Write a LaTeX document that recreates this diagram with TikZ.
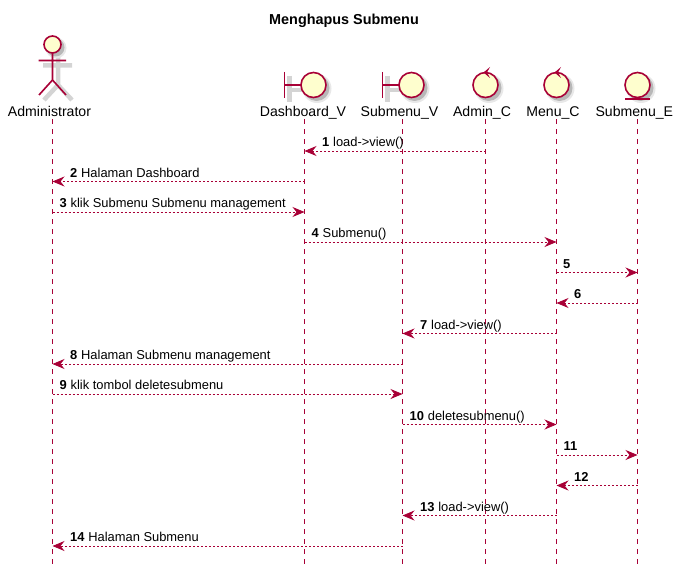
\documentclass[tikz,border=0pt]{standalone}
\usepackage{fontspec}
\setmainfont{Liberation Sans}
\usetikzlibrary{arrows.meta}
\definecolor{lineC}{HTML}{A80036}
\definecolor{fillC}{HTML}{FEFECE}
\definecolor{shadowC}{HTML}{D4D4D4}
\definecolor{shadowD}{HTML}{B8B8B8}
\definecolor{shadowL}{HTML}{E8E8E8}
\tikzset{
  x=1pt,y=-1pt,
  lifeline/.style={draw=lineC,line width=0.9pt,dash pattern=on 5pt off 5pt},
  message/.style={draw=lineC,line width=0.8pt,dash pattern=on 2pt off 2pt,-{Stealth[length=12pt,width=10pt,inset=4pt]}},
  symline/.style={draw=lineC,line width=1.6pt},
  symfill/.style={draw=lineC,fill=fillC,line width=1.6pt},
  shadowline/.style={draw=shadowC,line width=4.5pt},
  partname/.style={font=\fontsize{14.1}{16}\selectfont,text=black,inner sep=0pt,anchor=base},
  msgtext/.style={font=\fontsize{12.9}{15}\selectfont,text=black,inner sep=0pt,anchor=base west},
}
\newcommand{\softdisc}[3]{%
  \fill[shadowL] (#1+3.5,#2+3.5) circle (#3+2);
  \fill[shadowD] (#1+3,#2+3) circle (#3+0.5);
}
\newcommand{\msgline}[4]{%
  \coordinate (s#1) at (#2 |- 0,#4);
  \coordinate (e#1) at (#3 |- 0,#4);
  \draw[message] (s#1) -- (e#1);
}
\newcommand{\msglabel}[5]{%
  \node[msgtext] (t#1) at ([xshift=#3pt,yshift=4.4pt]#2 |- 0,#4) {\textbf{#1}\hspace{3.8pt}#5};
}
\begin{document}
\begin{tikzpicture}
\useasboundingbox (0,0) rectangle (684,575);
\node[font=\bfseries\fontsize{14.4}{16}\selectfont,anchor=base,inner sep=0pt] (title) at (344,25) {Menghapus Submenu};
\foreach \n/\x in {A/52.5,D/304.5,S/402.5,M/485.5,C/556.5,E/637.5}{
  \coordinate (\n top) at (\x,119);
  \coordinate (\n bot) at (\x,565);
  \draw[lifeline] (\n top) -- (\n bot);
}
% shadows
\draw[shadowline] (58,54) -- (58,85) (43,65.5) -- (72,65.5) (58,85) -- (44,100) (58,85) -- (72,100);
\softdisc{52.5}{44.5}{8.5}
\draw[shadowline] (289.5,76) -- (289.5,102) (289.5,90) -- (306,90);
\softdisc{313.5}{85}{12.5}
\draw[shadowline] (387.5,76) -- (387.5,102) (387.5,90) -- (404,90);
\softdisc{411.5}{85}{12.5}
\softdisc{485.5}{85}{12.5}
\softdisc{556.5}{85}{12.5}
\softdisc{637.5}{85}{12.5}
% Administrator
\draw[symline] (52.5,53) -- (52.5,80) (38.5,60.5) -- (66,60.5) (39,95) -- (52.5,80) -- (66,95);
\draw[symfill] (52.5,44.5) circle (8.5);
\node[partname] (nA) at (49.5,116) {Administrator};
% Dashboard_V
\draw[symline] (284.5,72) -- (284.5,98) (284.5,85) -- (301,85);
\draw[symfill] (313.5,85) circle (12.5);
\node[partname] (nD) at (303,116) {Dashboard\_V};
% Submenu_V
\draw[symline] (382.5,72) -- (382.5,98) (382.5,85) -- (399,85);
\draw[symfill] (411.5,85) circle (12.5);
\node[partname] (nS) at (399.5,116) {Submenu\_V};
% Admin_C
\draw[symfill] (485.5,85) circle (12.5);
\fill[lineC] (483.5,72.5) -- (490,67) -- (487,72.5) -- (490,78) -- cycle;
\node[partname] (nM) at (482,116) {Admin\_C};
% Menu_C
\draw[symfill] (556.5,85) circle (12.5);
\fill[lineC] (554.5,72.5) -- (561,67) -- (558,72.5) -- (561,78) -- cycle;
\node[partname] (nC) at (553,116) {Menu\_C};
% Submenu_E
\draw[symfill] (637.5,85) circle (12.5);
\draw[symline] (625,99) -- (650,99);
\node[partname] (nE) at (634.3,116) {Submenu\_E};
% messages
\msgline{1}{Mtop}{Dtop}{151}
\msgline{2}{Dtop}{Atop}{181.5}
\msgline{3}{Atop}{Dtop}{212}
\msgline{4}{Dtop}{Ctop}{242}
\msgline{5}{Ctop}{Etop}{272.5}
\msgline{6}{Etop}{Ctop}{303}
\msgline{7}{Ctop}{Stop}{333.5}
\msgline{8}{Stop}{Atop}{364}
\msgline{9}{Atop}{Stop}{394}
\msgline{10}{Stop}{Ctop}{424.5}
\msgline{11}{Ctop}{Etop}{455}
\msgline{12}{Etop}{Ctop}{485.5}
\msgline{13}{Ctop}{Stop}{515.5}
\msgline{14}{Stop}{Atop}{546}
\msglabel{1}{Dtop}{17.5}{151}{load->view()}
\msglabel{2}{Atop}{17.5}{181.5}{Halaman Dashboard}
\msglabel{3}{Atop}{7}{212}{klik Submenu Submenu management}
\msglabel{4}{Dtop}{7}{242}{Submenu()}
\msglabel{5}{Ctop}{6.5}{272.5}{}
\msglabel{6}{Ctop}{17.5}{303}{}
\msglabel{7}{Stop}{17.5}{333.5}{load->view()}
\msglabel{8}{Atop}{17.5}{364}{Halaman Submenu management}
\msglabel{9}{Atop}{7}{394}{klik tombol deletesubmenu}
\msglabel{10}{Stop}{7}{424.5}{deletesubmenu()}
\msglabel{11}{Ctop}{7}{455}{}
\msglabel{12}{Ctop}{17.5}{485.5}{}
\msglabel{13}{Stop}{17.5}{515.5}{load->view()}
\msglabel{14}{Atop}{17.5}{546}{Halaman Submenu}
\end{tikzpicture}
\end{document}
